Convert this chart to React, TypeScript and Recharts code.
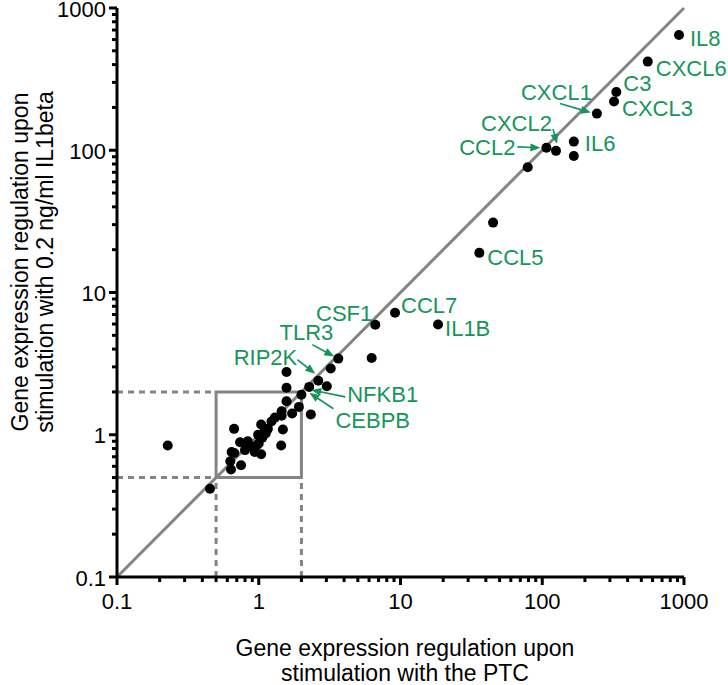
import React from 'react';
import { ScatterChart, Scatter, XAxis, YAxis, ReferenceLine, ReferenceArea, Customized } from 'recharts';

// ---- data ----
const labeledGenes = ['IL8', 'CXCL6', 'C3', 'CXCL3', 'CXCL1', 'CXCL2', 'CCL2', 'IL6', 'CCL5', 'CCL7', 'IL1B', 'CSF1', 'TLR3', 'RIP2K', 'NFKB1', 'CEBPB'];
const labeledPtc = [922, 555, 333, 321, 243, 125, 107, 167, 36, 9.15, 18.4, 6.64, 3.64, 2.63, 2.27, 2.0];
const labeledIl1b = [646, 420, 257, 220, 181, 99, 104, 115, 19, 7.2, 5.96, 5.93, 3.43, 2.4, 2.17, 1.91];

const otherPtc = [0.228, 0.453, 0.63, 0.637, 0.672, 0.644, 0.75, 0.738, 0.836, 0.936, 1.04, 0.99, 1.0, 0.967, 1.04, 1.12, 1.16, 1.23, 1.06, 0.67, 1.44, 1.48, 1.45, 1.45, 1.72, 1.92, 1.57, 1.57, 1.57, 2.33, 3.02, 3.22, 6.26, 45, 79, 167, 1.1, 0.9, 1.3, 0.8];
const otherIl1b = [0.84, 0.417, 0.652, 0.57, 0.745, 0.757, 0.61, 0.886, 0.9, 0.757, 0.73, 1.0, 0.867, 0.84, 1.18, 1.02, 1.1, 1.24, 0.955, 1.1, 0.84, 1.09, 1.46, 1.36, 1.41, 1.57, 1.72, 2.14, 2.76, 1.39, 2.19, 2.92, 3.46, 31, 76, 91, 1.06, 0.82, 1.32, 0.78];

const majorTicks = [0.1, 1, 10, 100, 1000];
const tickLabels = ['0.1', '1', '10', '100', '1000'];
const xTitle = ['Gene expression regulation upon', 'stimulation with the PTC'];
const yTitle = ['Gene expression regulation upon', 'stimulation with 0.2 ng/ml IL1beta'];

// ---- styling / layout ----
const FONT = "'Liberation Sans', Arial, Helvetica, sans-serif";
const GREEN = '#15955a';
const GRAY = '#848484';
const W = 728;
const H = 685;

// label offsets in pixels relative to each point: text position, anchor, optional arrow (from -> to)
const labelLayout: Record<string, { dx: number; dy: number; anchor: 'start' | 'end'; arrow?: number[] }> = {
  IL8: { dx: 11, dy: 4, anchor: 'start' },
  CXCL6: { dx: 8, dy: 7, anchor: 'start' },
  C3: { dx: 7, dy: -8, anchor: 'start' },
  CXCL3: { dx: 8, dy: 7, anchor: 'start' },
  CXCL1: { dx: -5, dy: -21, anchor: 'end', arrow: [-37, -10, -6, -1] },
  CXCL2: { dx: -4, dy: -27, anchor: 'end', arrow: [-3, -22, 1, -7] },
  CCL2: { dx: -31, dy: 0, anchor: 'end', arrow: [-29, -1, -6, 0] },
  IL6: { dx: 11, dy: 2, anchor: 'start' },
  CCL5: { dx: 8, dy: 5, anchor: 'start' },
  CCL7: { dx: 6, dy: -7, anchor: 'start' },
  IL1B: { dx: 7, dy: 4, anchor: 'start' },
  CSF1: { dx: -3, dy: -11, anchor: 'end' },
  TLR3: { dx: -5, dy: -26, anchor: 'end', arrow: [-26, -14, -4, -2] },
  RIP2K: { dx: -21, dy: -23, anchor: 'end', arrow: [-21, -21, -3, -7] },
  NFKB1: { dx: 38, dy: 8, anchor: 'start', arrow: [36, 10, 2, 3] },
  CEBPB: { dx: 34, dy: 26, anchor: 'start', arrow: [32, 14, 8, -2] },
};

const labeledData = labeledGenes.map((g, i) => ({ gene: g, x: labeledPtc[i], y: labeledIl1b[i] }));
const otherData = otherPtc.map((v, i) => ({ x: v, y: otherIl1b[i] }));

const allTicks: number[] = [];
majorTicks.forEach((m, i) => {
  allTicks.push(m);
  if (i < majorTicks.length - 1) {
    for (let k = 2; k <= 9; k++) allTicks.push(m * k);
  }
});

const majorIndex = (v: number) => majorTicks.findIndex((m) => Math.abs(m - v) / m < 1e-6);

const XTick = (props: any) => {
  const { x, y, payload } = props;
  const idx = majorIndex(payload.value);
  const major = idx >= 0;
  return (
    <g>
      <line x1={x} x2={x} y1={y} y2={y + (major ? 8 : 5)} stroke="#000" strokeWidth={3} />
      {major && (
        <text x={x} y={y + 24} textAnchor="middle" dominantBaseline="central" fontSize={22} fontFamily={FONT} fill="#000">
          {tickLabels[idx]}
        </text>
      )}
    </g>
  );
};

const YTick = (props: any) => {
  const { x, y, payload } = props;
  const idx = majorIndex(payload.value);
  const major = idx >= 0;
  return (
    <g>
      <line x1={x} x2={x - (major ? 8 : 5)} y1={y} y2={y} stroke="#000" strokeWidth={3} />
      {major && (
        <text x={x - 11} y={y + 1} textAnchor="end" dominantBaseline="central" fontSize={22} fontFamily={FONT} fill="#000">
          {tickLabels[idx]}
        </text>
      )}
    </g>
  );
};

const Dot = (props: any) => <circle cx={props.cx} cy={props.cy} r={5} fill="#000" />;

const arrowHead = (x1: number, y1: number, x2: number, y2: number) => {
  const ang = Math.atan2(y2 - y1, x2 - x1);
  const len = 10;
  const hw = 4;
  const bx = x2 - len * Math.cos(ang);
  const by = y2 - len * Math.sin(ang);
  const px = -Math.sin(ang) * hw;
  const py = Math.cos(ang) * hw;
  return `${x2},${y2} ${bx + px},${by + py} ${bx - px},${by - py}`;
};

const LabeledDot = (props: any) => {
  const { cx, cy, payload } = props;
  const l = labelLayout[payload.gene];
  let arrow = null;
  if (l && l.arrow) {
    const [ax1, ay1, ax2, ay2] = l.arrow;
    const x1 = cx + ax1, y1 = cy + ay1, x2 = cx + ax2, y2 = cy + ay2;
    const ang = Math.atan2(y2 - y1, x2 - x1);
    arrow = (
      <g>
        <line x1={x1} y1={y1} x2={x2 - 8 * Math.cos(ang)} y2={y2 - 8 * Math.sin(ang)} stroke={GREEN} strokeWidth={1.6} />
        <polygon points={arrowHead(x1, y1, x2, y2)} fill={GREEN} />
      </g>
    );
  }
  return (
    <g>
      <circle cx={cx} cy={cy} r={5} fill="#000" />
      {arrow}
      {l && (
        <text x={cx + l.dx} y={cy + l.dy} textAnchor={l.anchor} dominantBaseline="central" fontSize={22} fontFamily={FONT} fill={GREEN}>
          {payload.gene}
        </text>
      )}
    </g>
  );
};

const Titles = () => (
  <g fontFamily={FONT} fontSize={23} fill="#000">
    <text x={405} y={648} textAnchor="middle" dominantBaseline="central">{xTitle[0]}</text>
    <text x={405} y={673} textAnchor="middle" dominantBaseline="central">{xTitle[1]}</text>
    <text transform="translate(20,262) rotate(-90)" textAnchor="middle" dominantBaseline="central">{yTitle[0]}</text>
    <text transform="translate(45,262) rotate(-90)" textAnchor="middle" dominantBaseline="central">{yTitle[1]}</text>
  </g>
);

const dashed = [
  [{ x: 0.1, y: 2 }, { x: 0.5, y: 2 }],
  [{ x: 0.1, y: 0.5 }, { x: 0.5, y: 0.5 }],
  [{ x: 0.5, y: 0.1 }, { x: 0.5, y: 0.5 }],
  [{ x: 2, y: 0.1 }, { x: 2, y: 0.5 }],
];

export default function App() {
  return (
    <div style={{ position: 'absolute', left: 0, top: 0, width: W, height: H, background: '#fff' }}>
      <ScatterChart width={W} height={H} margin={{ top: 8, right: 44, bottom: 0, left: 0 }}>
        <XAxis
          type="number"
          dataKey="x"
          scale="log"
          domain={[0.1, 1000]}
          ticks={allTicks}
          interval={0}
          tick={<XTick />}
          tickLine={false}
          tickSize={0}
          tickMargin={0}
          axisLine={{ stroke: '#000', strokeWidth: 3 }}
          height={108}
        />
        <YAxis
          type="number"
          dataKey="y"
          scale="log"
          domain={[0.1, 1000]}
          ticks={allTicks}
          interval={0}
          tick={<YTick />}
          tickLine={false}
          tickSize={0}
          tickMargin={0}
          axisLine={{ stroke: '#000', strokeWidth: 3 }}
          width={117}
        />
        {dashed.map((seg, i) => (
          <ReferenceLine key={i} segment={seg} stroke={GRAY} strokeWidth={3} strokeDasharray="6 5" ifOverflow="visible" />
        ))}
        <ReferenceArea x1={0.5} x2={2} y1={0.5} y2={2} fill="none" fillOpacity={0} stroke={GRAY} strokeWidth={3} ifOverflow="visible" />
        <ReferenceLine segment={[{ x: 0.1, y: 0.1 }, { x: 1000, y: 1000 }]} stroke={GRAY} strokeWidth={3} ifOverflow="visible" />
        <Scatter data={otherData} shape={<Dot />} isAnimationActive={false} />
        <Scatter data={labeledData} shape={<LabeledDot />} isAnimationActive={false} />
        <Customized component={<Titles />} />
      </ScatterChart>
    </div>
  );
}
